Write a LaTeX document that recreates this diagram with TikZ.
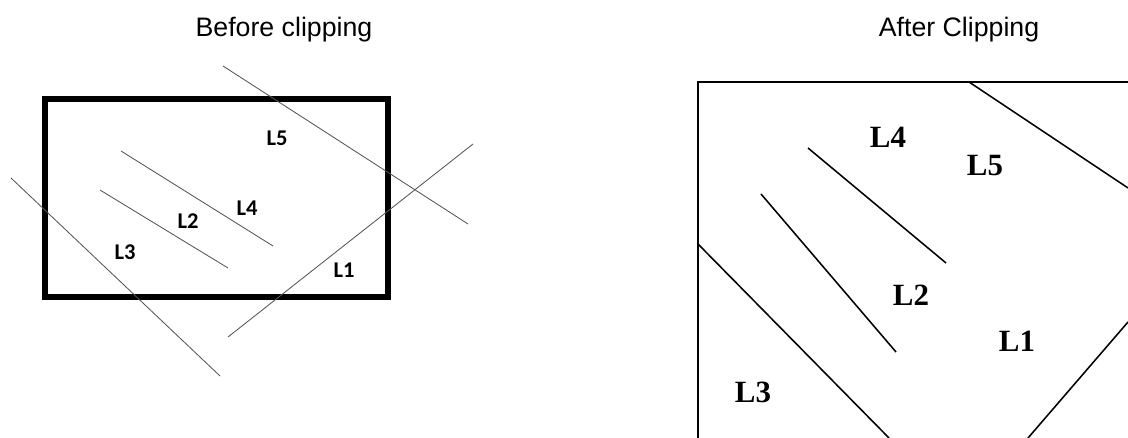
\documentclass[tikz,border=0pt]{standalone}
\usepackage{fontspec}
\setmainfont{Liberation Sans}
\newfontfamily\calfont{Carlito}
\newfontfamily\timesfont{Liberation Serif}
\usetikzlibrary{positioning}
\definecolor{ThinLine}{HTML}{555555}
\definecolor{BoxLine}  {HTML}{000000}

\begin{document}
\begin{tikzpicture}[x=0.025cm,y=-0.025cm,
    title/.style={font=\fontsize{19}{22}\selectfont,anchor=base,inner sep=0pt},
    smalllabel/.style={font=\calfont\bfseries\fontsize{16}{18}\selectfont,inner sep=0pt},
    biglabel/.style={font=\timesfont\bfseries\fontsize{22}{26}\selectfont,inner sep=0pt},
    rawline/.style={draw=ThinLine,line width=0.6pt},
    cutline/.style={draw=BoxLine,line width=1.1pt}]
  \clip (0,0) rectangle (1128,438);
  % titles
  \node[title] (before) at (284,37) {Before clipping};
  \node[title] (after)  at (959,37) {After Clipping};
  % before clipping
  \draw[BoxLine,line width=3.6pt] (45,99) rectangle (388,297);
  \draw[rawline] (223,66)  -- (468,224);
  \draw[rawline] (228,337) -- (473,144);
  \draw[rawline] (11,178)  -- (220,376);
  \draw[rawline] (100,190) -- (228,268);
  \draw[rawline] (121,151) -- (273,246);
  \node[smalllabel] (l5a) at (277,138) {L5};
  \node[smalllabel] (l4a) at (247,208) {L4};
  \node[smalllabel] (l2a) at (188,221) {L2};
  \node[smalllabel] (l3a) at (125,252) {L3};
  \node[smalllabel] (l1a) at (344,270) {L1};
  % after clipping
  \draw[cutline] (698,82) rectangle (1200,500);
  \draw[cutline] (969,82)  -- (1128,188);
  \draw[cutline] (1028,438) -- (1128,322);
  \draw[cutline] (698,244) -- (889,438);
  \draw[cutline] (761,194) -- (896,352);
  \draw[cutline] (808,148) -- (946,263);
  \node[biglabel] (l4b) at (888,137) {L4};
  \node[biglabel] (l5b) at (985,166) {L5};
  \node[biglabel] (l2b) at (911,295) {L2};
  \node[biglabel] (l1b) at (1017,341) {L1};
  \node[biglabel] (l3b) at (753,392) {L3};
\end{tikzpicture}
\end{document}
